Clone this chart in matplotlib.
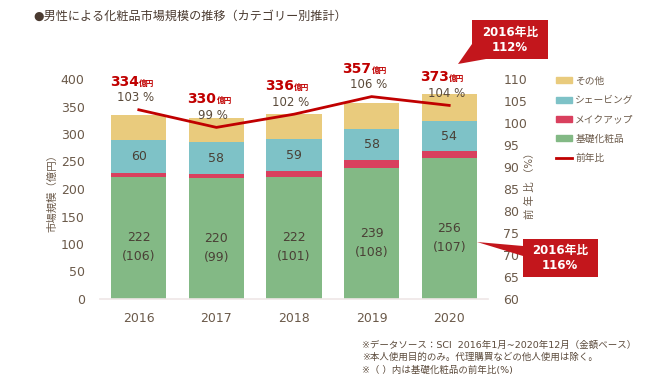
import matplotlib.pyplot as plt
from matplotlib.patches import Polygon, Patch
from matplotlib.lines import Line2D

plt.rcParams['font.family'] = ['DejaVu Sans', 'Noto Sans CJK JP']

# data
years = ["2016", "2017", "2018", "2019", "2020"]
basic = [222, 220, 222, 239, 256]          # 基礎化粧品
makeup = [7, 7, 10, 13, 13]                # メイクアップ
shaving = [60, 58, 59, 58, 54]             # シェービング
other = [45, 45, 45, 47, 50]               # その他
totals = [334, 330, 336, 357, 373]
yoy = [103, 99, 102, 106, 104]             # 前年比 (%)
basic_yoy = [106, 99, 101, 108, 107]

C_BASIC = "#83B985"
C_MAKEUP = "#D9405E"
C_SHAVING = "#7EC2C7"
C_OTHER = "#E9CB7D"
C_LINE = "#C00000"
C_TEXT = "#6B5A4A"
C_RED = "#C3161C"

W, H = 650, 383
fig = plt.figure(figsize=(6.5, 3.83), dpi=100)


def fx(px):
    return px / W


def fy(py):
    return 1 - py / H


ax = fig.add_axes([fx(100), fy(299), fx(388), 220 / H])
x = list(range(len(years)))
bw = 0.71

b1 = [basic[i] for i in x]
b2 = [basic[i] + makeup[i] for i in x]
b3 = [b2[i] + shaving[i] for i in x]
ax.bar(x, basic, bw, color=C_BASIC, label="基礎化粧品", zorder=2)
ax.bar(x, makeup, bw, bottom=b1, color=C_MAKEUP, label="メイクアップ", zorder=2)
ax.bar(x, shaving, bw, bottom=b2, color=C_SHAVING, label="シェービング", zorder=2)
ax.bar(x, other, bw, bottom=b3, color=C_OTHER, label="その他", zorder=2)

ax.set_xlim(-0.5, 4.5)
ax.set_ylim(0, 400)
ax.set_yticks(range(0, 401, 50))
ax.set_xticks(x)
ax.set_xticklabels(years)
for s in ["top", "right", "left"]:
    ax.spines[s].set_visible(False)
ax.spines["bottom"].set_color("#EFE6E6")
ax.spines["bottom"].set_linewidth(1.2)
ax.tick_params(axis="both", length=0, colors=C_TEXT, labelsize=9)
ax.tick_params(axis="y", pad=11)
ax.tick_params(axis="x", pad=9)

# labels in segments
for i in x:
    ax.text(i, b2[i] + shaving[i] / 2, str(shaving[i]), ha="center", va="center",
            fontsize=9, color="#4A4036", zorder=3)
    ax.annotate(str(basic[i]), (i, basic[i] / 2), ha="center", va="center",
                fontsize=9, color="#4A4036", zorder=3)
    ax.annotate(f"({basic_yoy[i]})", (i, basic[i] / 2), xytext=(0, -19),
                textcoords="offset pixels", ha="center", va="center",
                fontsize=9, color="#4A4036", zorder=3)

ax2 = ax.twinx()
ax2.set_ylim(60, 110)
ax2.set_yticks(range(60, 111, 5))
for s in ["top", "right", "left", "bottom"]:
    ax2.spines[s].set_visible(False)
ax2.tick_params(axis="y", length=0, colors=C_TEXT, labelsize=9, pad=11)
ax2.plot(x, yoy, color=C_LINE, lw=2, zorder=4)

for i in x:
    ax2.annotate(f"{yoy[i]} %", (i, yoy[i]), xytext=(-3, 12),
                 textcoords="offset pixels", ha="center", va="center",
                 fontsize=8.5, color="#5A4A3A")
    ax2.annotate(str(totals[i]), (i, yoy[i]), xytext=(0, 24),
                 textcoords="offset pixels", ha="right", va="baseline",
                 fontsize=10, fontweight="bold", color=C_LINE)
    ax2.annotate("億円", (i, yoy[i]), xytext=(0, 24),
                 textcoords="offset pixels", ha="left", va="baseline",
                 fontsize=5.5, fontweight="bold", color=C_LINE)

# axis titles
fig.text(fx(52), fy(190), "市場規模（億円）", rotation=90, ha="center",
         va="center", fontsize=7.5, color=C_TEXT)
fig.text(fx(530), fy(183), "前 年 比 （%）", rotation=90, ha="center",
         va="center", fontsize=7.5, color=C_TEXT)

# legend
handles = [
    Patch(color=C_OTHER, label="その他"),
    Patch(color=C_SHAVING, label="シェービング"),
    Patch(color=C_MAKEUP, label="メイクアップ"),
    Patch(color=C_BASIC, label="基礎化粧品"),
    Line2D([0], [0], color=C_LINE, lw=2, label="前年比"),
]
leg = fig.legend(handles=handles, loc="upper left",
                 bbox_to_anchor=(fx(551), fy(71)), frameon=False,
                 fontsize=7, handlelength=1.7, handleheight=0.55,
                 handletextpad=0.3, labelspacing=0.95, borderpad=0)
for t in leg.get_texts():
    t.set_color(C_TEXT)

# title
fig.text(fx(33), fy(16), "●男性による化粧品市場規模の推移（カテゴリー別推計）",
         ha="left", va="center", fontsize=8.7, color="#4A3A30")


# callouts
def callout(pts, center, lines):
    poly = Polygon([(fx(a), fy(b)) for a, b in pts], closed=True,
                   transform=fig.transFigure, facecolor=C_RED,
                   edgecolor="none", zorder=5)
    fig.patches.append(poly)
    fig.text(fx(center[0]), fy(center[1]), lines, ha="center", va="center",
             fontsize=8.5, fontweight="bold", color="white",
             linespacing=1.25, zorder=6)


callout([(472, 20), (548, 20), (548, 59), (486, 59), (458, 64), (472, 44)],
        (510, 40), "2016年比\n112%")
callout([(523, 239), (598, 239), (598, 277), (523, 277), (523, 256),
         (477, 242), (523, 246)],
        (560, 258), "2016年比\n116%")

# footnotes
notes = [
    "※データソース：SCI  2016年1月~2020年12月（金額ベース）",
    "※本人使用目的のみ。代理購買などの他人使用は除く。",
    "※（ ）内は基礎化粧品の前年比(%)",
]
for k, n in enumerate(notes):
    fig.text(fx(362), fy(345 + k * 12.5), n, ha="left", va="center",
             fontsize=6.8, color="#5B4A3B")

fig.savefig("out.png", dpi=100)
